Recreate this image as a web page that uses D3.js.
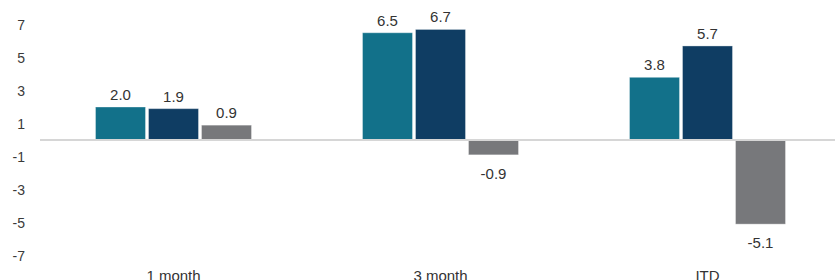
<!DOCTYPE html>
<html>
<head>
<meta charset="utf-8">
<script src="https://cdn.jsdelivr.net/npm/d3@7"></script>
<style>
  html, body { margin: 0; padding: 0; background: #fff; }
  svg { display: block; }
  text { font-family: "Liberation Sans", Arial, Helvetica, sans-serif; }
</style>
</head>
<body>
<svg id="chart" width="835" height="280"></svg>
<script>
const categories = ["1 month", "3 month", "ITD"];
const seriesNames = ["Series 1", "Series 2", "Series 3"];
const series1 = [2.0, 6.5, 3.8];
const series2 = [1.9, 6.7, 5.7];
const series3 = [0.9, -0.9, -5.1];
const tickValues = [7, 5, 3, 1, -1, -3, -5, -7];
const colors = ["#12718a", "#0f3d63", "#77787b"];

const allSeries = [series1, series2, series3];
const data = categories.map((c, i) => ({
  category: c,
  values: seriesNames.map((s, j) => ({ key: s, value: allSeries[j][i], color: colors[j] }))
}));

const svg = d3.select("#chart");
const x0 = d3.scaleBand().domain(categories).range([40, 841]).padding(0);
const x1 = d3.scaleBand().domain(seriesNames).range([55.5, 211.5]).paddingInner(3 / 53).paddingOuter(0);
const y = d3.scaleLinear().domain([-7, 7]).range([255.5, 24.5]);

// y tick labels
svg.append("g").selectAll("text").data(tickValues).join("text")
  .attr("x", 25)
  .attr("y", d => y(d))
  .attr("dy", "0.36em")
  .attr("text-anchor", "end")
  .attr("font-size", 14)
  .attr("fill", "#3a3a3a")
  .text(d => String(d));

// bars
const groups = svg.append("g").selectAll("g").data(data).join("g")
  .attr("transform", d => `translate(${x0(d.category)},0)`);

groups.selectAll("rect").data(d => d.values).join("rect")
  .attr("x", d => x1(d.key))
  .attr("width", x1.bandwidth())
  .attr("y", d => y(Math.max(0, d.value)))
  .attr("height", d => Math.abs(y(d.value) - y(0)))
  .attr("fill", d => d.color)
  .attr("stroke", "#ffffff")
  .attr("stroke-opacity", 0.35)
  .attr("stroke-width", 1);

// value labels
groups.selectAll("text.val").data(d => d.values).join("text")
  .attr("class", "val")
  .attr("x", d => x1(d.key) + x1.bandwidth() / 2)
  .attr("y", d => d.value >= 0 ? y(d.value) - 7 : y(d.value) + 24)
  .attr("text-anchor", "middle")
  .attr("font-size", 15)
  .attr("fill", "#333")
  .text(d => d.value.toFixed(1));

// zero line
svg.append("line")
  .attr("x1", 40).attr("x2", 835)
  .attr("y1", y(0)).attr("y2", y(0))
  .attr("stroke", "#d6d6d6")
  .attr("stroke-width", 2);

// category labels
svg.append("g").selectAll("text").data(categories).join("text")
  .attr("x", d => x0(d) + x0.bandwidth() / 2)
  .attr("y", 280.5)
  .attr("text-anchor", "middle")
  .attr("font-size", 15)
  .attr("fill", "#333")
  .text(d => d);
</script>
</body>
</html>
